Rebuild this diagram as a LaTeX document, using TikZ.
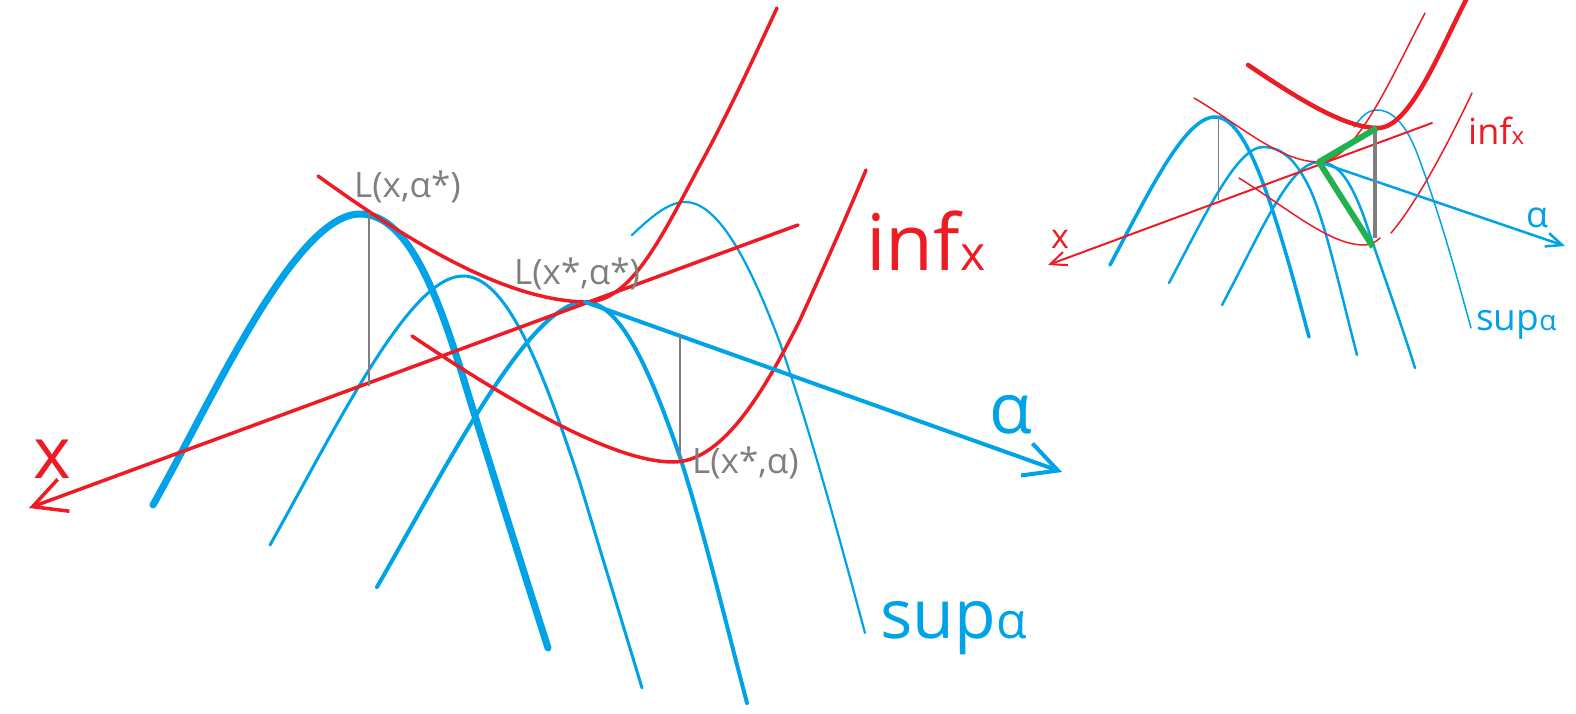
\documentclass[tikz,border=0pt]{standalone}
\usepackage{fontspec}
\setmainfont{Open Sans}
\usetikzlibrary{arrows.meta}
\definecolor{pRed}{RGB}{237,28,36}
\definecolor{pBlue}{RGB}{0,162,232}
\definecolor{pGray}{RGB}{127,127,127}
\definecolor{pGreen}{RGB}{34,177,76}
\newcommand{\setfs}[1]{\fontsize{#1}{#1}\selectfont}
\tikzset{
  redcurve/.style={pRed,line width=#1,line cap=round,line join=round},
  redcurve/.default=3.5pt,
  bluecurve/.style={pBlue,line width=#1,line cap=round,line join=round},
  bluecurve/.default=3pt,
  grayline/.style={pGray,line width=#1},
  grayline/.default=2.5pt,
  bigbarb/.style={-{Straight Barb[length=33pt,width=34pt]}},
  smallbarb/.style={-{Straight Barb[length=16pt,width=14pt]}},
  txt/.style={inner sep=0pt,anchor=base west}
}

\begin{document}
\begin{tikzpicture}[x=1pt,y=-1pt]
    \useasboundingbox (0,0) rectangle (1576,714);

    % main picture
    \coordinate (sadM) at (585,302);
    \coordinate (topA) at (369,213);
    \coordinate (footA) at (369,386);
    \coordinate (axB) at (680,336);
    \coordinate (lowB) at (680,460);

    \draw[bluecurve=7pt] (153,505) .. controls (212,400) and (295,214) .. (360,214)
      .. controls (410,214) and (440,300) .. (470,400) .. controls (495,480) and (520,560) .. (548,648);
    \draw[bluecurve=3pt] (270,545) .. controls (340,420) and (410,276) .. (463,276)
      .. controls (505,276) and (540,360) .. (580,483) .. controls (600,550) and (620,615) .. (642,688);
    \draw[bluecurve=4pt] (377,587) .. controls (450,460) and (530,302) .. (sadM)
      .. controls (620,302) and (650,370) .. (680,457) .. controls (705,535) and (725,620) .. (747,703);
    \draw[bluecurve=2.2pt] (632,235) .. controls (650,218) and (668,202) .. (685,202)
      .. controls (715,202) and (745,250) .. (780,343) .. controls (810,430) and (840,540) .. (865,633);

    \draw[redcurve] (318,176) .. controls (400,235) and (500,300) .. (sadM)
      .. controls (630,303) and (660,240) .. (700,165) .. controls (730,110) and (755,55) .. (777,8);
    \draw[redcurve] (412,336) .. controls (500,395) and (610,462) .. (673,462)
      .. controls (720,462) and (760,400) .. (800,320) .. controls (825,265) and (845,220) .. (866,170);
    \draw[redcurve,bigbarb] (798,225) -- (29,508);
    \draw[bluecurve=4pt,bigbarb] (sadM) -- (1062,472);

    \draw[grayline] (topA) -- (footA);
    \draw[grayline] (axB) -- (lowB);

    \node[txt,pGray,font=\setfs{35}] (lxa) at (354,198) {L(x,α*)};
    \node[txt,pGray,font=\setfs{35}] (lxsas) at (514,284) {L(x*,α*)};
    \node[txt,pGray,font=\setfs{35}] (lxsa) at (692,473) {L(x*,α)};
    \node[txt,pRed,font=\setfs{72}] (xlab) at (33,478) {x};
    \node[txt,pBlue,font=\setfs{70}] (alab) at (989,433) {α};
    \node[txt,pRed,font=\setfs{78}] (inflab) at (866,270) {inf{\setfs{48}x}};
    \node[txt,pBlue,font=\setfs{68}] (suplab) at (880,638) {sup{\setfs{50}α}};

    % small picture
    \coordinate (sadS) at (1319,162);
    \coordinate (hiS) at (1377,128);
    \coordinate (loS) at (1373,247);

    \draw[bluecurve=3.5pt] (1110,265) .. controls (1150,190) and (1185,117) .. (1215,117)
      .. controls (1245,117) and (1270,190) .. (1309,337);
    \draw[bluecurve=2.5pt] (1169,283) .. controls (1205,215) and (1237,147) .. (1263,147)
      .. controls (1285,147) and (1298,165) .. (1309,187) .. controls (1325,220) and (1340,290) .. (1357,355);
    \draw[bluecurve=2.5pt] (1222,305) .. controls (1262,230) and (1290,162) .. (sadS)
      .. controls (1340,162) and (1352,185) .. (1364,217) .. controls (1380,265) and (1400,320) .. (1415,368);
    \draw[bluecurve=1.5pt] (1354,127) .. controls (1362,116) and (1368,110) .. (1377,110)
      .. controls (1395,110) and (1408,130) .. (1417,153) .. controls (1440,215) and (1455,270) .. (1471,328);

    \draw[redcurve=4.5pt] (1248,65) .. controls (1300,100) and (1345,128) .. (1378,128)
      .. controls (1410,128) and (1440,50) .. (1466,0);
    \draw[redcurve=1.5pt] (1194,98) .. controls (1240,125) and (1280,162) .. (sadS)
      .. controls (1355,162) and (1390,80) .. (1425,13);
    \draw[redcurve=1.5pt] (1239,178) .. controls (1290,210) and (1330,245) .. (1364,245)
      .. controls (1370,245) and (1376,242) .. (1380,238);
    \draw[redcurve=1.5pt] (1391,233) .. controls (1415,205) and (1445,150) .. (1472,93);
    \draw[redcurve=2pt,smallbarb] (1432,123) -- (1048,265);
    \draw[bluecurve=2.5pt,smallbarb] (sadS) -- (1565,246);

    \draw[grayline=1pt] (1218,118) -- (1218,200);
    \draw[grayline=4pt] (1375,130) -- (1375,238);
    \draw[pGreen,line width=6pt,line join=round] (hiS) -- (sadS) -- (loS);

    \node[txt,pRed,font=\setfs{34}] (xlabS) at (1051,248) {x};
    \node[txt,pBlue,font=\setfs{36}] (alabS) at (1526,227) {α};
    \node[txt,pRed,font=\setfs{36}] (inflabS) at (1468,145) {inf{\setfs{24}x}};
    \node[txt,pBlue,font=\setfs{37}] (suplabS) at (1476,330) {sup{\setfs{28}α}};
  \end{tikzpicture}
\end{document}
